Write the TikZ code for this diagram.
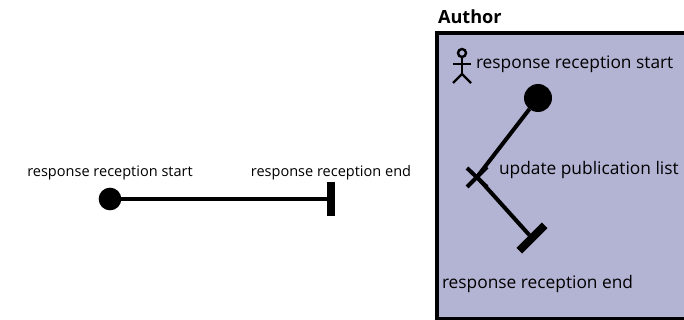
\documentclass[tikz,border=0pt]{standalone}
\usepackage{fontspec}
\setmainfont{Open Sans}
\pgfdeclarelayer{bg}
\pgfsetlayers{bg,main}
\definecolor{panelblue}{RGB}{179,179,211}
\tikzset{
    every node/.style={inner sep=0mm, outer sep=0mm},
    every label/.style={shape=rectangle, draw=none, font=\fontsize{10.9}{12}\selectfont},
    startdot/.style={circle, fill=black},
    endbar/.style={rectangle, fill=black},
    chain/.style={line width=3pt},
    actor/.style={line width=1.8pt},
    txt/.style={font=\fontsize{13}{15}\selectfont, anchor=west}
}
\begin{document}
\begin{tikzpicture}[x=0.75pt,y=-0.75pt]
        \useasboundingbox (0,0) rectangle (684,320);
        \node (v0) [startdot, minimum size=17pt, label={[label distance=5.5pt]above:{response reception start}}] at (110,199) {};
        \node (v1) [endbar, minimum width=5.5pt, minimum height=26pt, label={[label distance=1.5pt]above:{response reception end}}] at (331,199) {};
        \node (t0) [anchor=west, font=\bfseries\fontsize{13.6}{15}\selectfont] at (438,17) {Author};
        \node (t1) [txt] at (476,64) {response reception start};
        \node (t2) [txt] at (499,170) {update publication list};
        \node (t3) [txt] at (442,284) {response reception end};
        \node (v2) [startdot, minimum size=21pt] at (538,98) {};
        \coordinate (v3) at (477,177);
        \node (v4) [endbar, minimum width=27pt, minimum height=6pt, rotate=45] at (532,238) {};
        \coordinate (c0) at (467,168);
        \coordinate (c1) at (487,187);
        \coordinate (c2) at (467,187);
        \coordinate (c3) at (487,167);
        \coordinate (h1) at (462,74);
        \coordinate (h2) at (453,64);
        \coordinate (h3) at (471,64);
        \coordinate (h4) at (453,83);
        \coordinate (h5) at (471,83);
        \node (h6) [circle, draw, line width=1.8pt, minimum size=6pt] at (462,53) {};
        \begin{pgfonlayer}{bg}
                \draw [line width=3.4pt, fill=panelblue] (436.8,33) rectangle (690,319);
                \draw (v0) edge [chain] (v1);
                \draw (v2) edge [chain] (v3);
                \draw (v3) edge [chain] (v4);
                \draw (c0) edge [chain] (c1);
                \draw (c2) edge [chain] (c3);
                \draw (h6) edge [actor] (h1);
                \draw (h2) edge [actor] (h3);
                \draw (h1) edge [actor] (h4);
                \draw (h1) edge [actor] (h5);
        \end{pgfonlayer}
\end{tikzpicture}
\end{document}
